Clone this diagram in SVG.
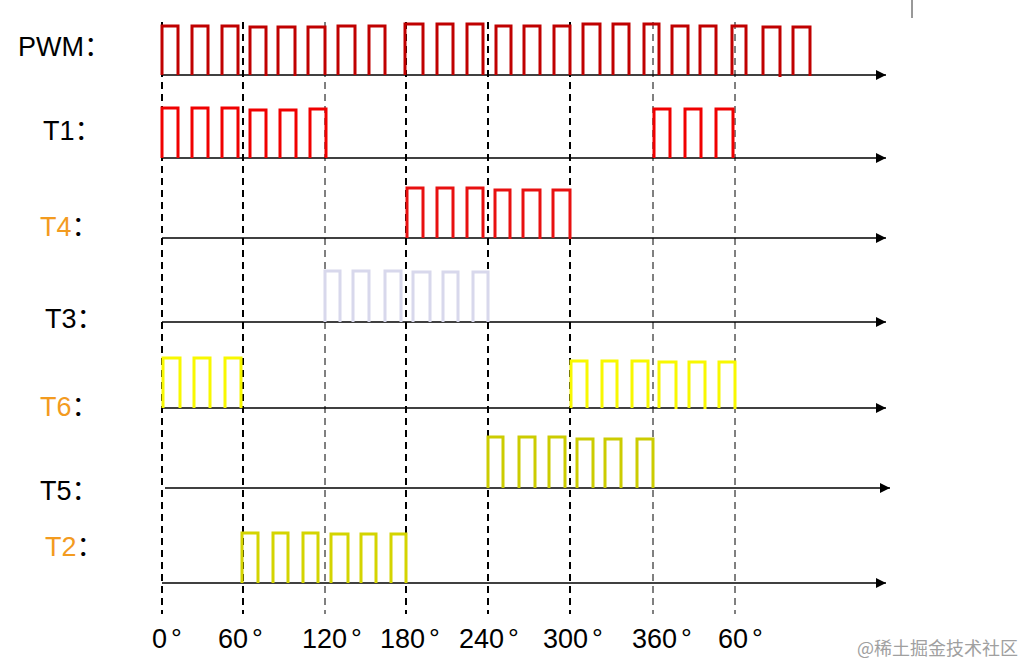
<svg xmlns="http://www.w3.org/2000/svg" width="1024" height="666" viewBox="0 0 1024 666">
<defs>
<marker id="arr" markerWidth="10" markerHeight="10" refX="10" refY="5" orient="auto" markerUnits="userSpaceOnUse">
<path d="M0,0 L10,5 L0,10 Z" fill="#000"/>
</marker>
<style>
.lbl{font-family:"Liberation Sans","Noto Sans CJK SC",sans-serif;font-size:27px;fill:#000}
.org{fill:#f39b1f}
.deg{font-family:"Liberation Sans",sans-serif;font-size:27px;fill:#000}
.axis{stroke:#000;stroke-width:1.6;fill:none;marker-end:url(#arr)}
.p{fill:none;stroke-width:3;stroke-linejoin:miter}
.dk{stroke:#000;stroke-width:2;stroke-dasharray:7 5;fill:none}
.dt{stroke:#000;stroke-width:1;stroke-dasharray:7 5;fill:none}
.wm{font-family:"Noto Sans CJK SC",sans-serif;font-size:18px;fill:#a0a0a0}
</style>
</defs>
<rect width="1024" height="666" fill="#fff"/>
<line x1="912" y1="0" x2="912" y2="18" stroke="#333" stroke-width="1"/>

<g id="connectors">
<line class="dk" x1="162" y1="22" x2="162" y2="614"/>
<line class="dk" x1="243" y1="22" x2="243" y2="614"/>
<line class="dt" x1="325" y1="22" x2="325" y2="614"/>
<line class="dk" x1="406" y1="22" x2="406" y2="614"/>
<line class="dk" x1="488" y1="22" x2="488" y2="614"/>
<line class="dk" x1="570" y1="22" x2="570" y2="614"/>
<line class="dt" x1="653" y1="22" x2="653" y2="614"/>
<line class="dt" x1="735" y1="22" x2="735" y2="614"/>
</g>

<g id="row-pwm">
<text class="lbl" x="18" y="56">PWM：</text>
<line class="axis" x1="162" y1="75" x2="886" y2="75"/>
<path class="p" stroke="#c00000" d="M162 75V26H178V75M192 75V26H208V75M222 75V26H238V75M250 75V27H266V76M278 75V27H295V76M308 75V27H325V75M338 75V26H355V75M369 75V26H385V75M405 75V24H423V75M437 75V24H453V75M467 75V24H483V75M496 75V26H511V75M524 75V26H540V75M554 75V26H570V75M583 75V24H600V75M613 75V24H629V75M644 75V24H659V75M672 75V26H688V75M700 75V26H716V75M732 75V26H746V75M763 75V27H780V77M793 75V27H810V76"/>
</g>

<g id="row-t1">
<text class="lbl" x="43" y="140">T1：</text>
<line class="axis" x1="162" y1="158" x2="886" y2="158"/>
<path class="p" stroke="#f00000" d="M162 158V108H178V158M192 158V108H208V158M222 158V108H238V158M250 158V110H266V158M280 158V110H296V158M310 158V109H326V158M654 158V109H670V158M685 158V109H701V158M716 158V109H733V158"/>
</g>

<g id="row-t4">
<text class="lbl" x="40" y="236"><tspan class="org">T4</tspan>：</text>
<line class="axis" x1="162" y1="238" x2="886" y2="238"/>
<path class="p" stroke="#e81010" d="M407 238V188H423V238M437 238V188H453V238M467 238V188H483V238M495 238V190H510V239M523 238V190H540V239M553 238V190H570V239"/>
</g>

<g id="row-t3">
<text class="lbl" x="45" y="328">T3：</text>
<line class="axis" x1="162" y1="322" x2="886" y2="322"/>
<path class="p" stroke="#d8d8ec" d="M325 322V271H340V322M353 322V271H369V322M385 322V271H401V322M413 322V272H430V322M443 322V272H458V322M473 322V272H488V322"/>
</g>

<g id="row-t6">
<text class="lbl" x="40" y="416"><tspan class="org">T6</tspan>：</text>
<line class="axis" x1="162" y1="408" x2="886" y2="408"/>
<path class="p" stroke="#f8f800" d="M163 408V358H180V408M194 408V358H210V408M225 408V358H241V408M571 408V361H587V408M602 408V361H617V408M632 408V361H648V408M659 408V362H676V409M689 408V362H705V409M719 408V362H735V409"/>
</g>

<g id="row-t5">
<text class="lbl" x="40" y="500">T5：</text>
<line class="axis" x1="165" y1="488" x2="890" y2="488"/>
<path class="p" stroke="#cccc00" d="M488 488V437H503V488M519 488V437H535V488M549 488V437H565V488M577 488V439H593V488M605 488V439H621V488M637 488V439H653V488"/>
</g>

<g id="row-t2">
<text class="lbl" x="45" y="556"><tspan class="org">T2</tspan>：</text>
<line class="axis" x1="162" y1="583" x2="886" y2="583"/>
<path class="p" stroke="#d4d400" d="M242 583V533H258V583M273 583V533H288V583M303 583V533H318V583M331 583V534H348V583M361 583V534H376V583M391 583V534H406V583"/>
</g>

<g id="degrees">
<text class="deg" x="152" y="648">0<tspan dx="4">°</tspan></text>
<text class="deg" x="218" y="648">60<tspan dx="4">°</tspan></text>
<text class="deg" x="302" y="648">120<tspan dx="4">°</tspan></text>
<text class="deg" x="380" y="648">180<tspan dx="4">°</tspan></text>
<text class="deg" x="459" y="648">240<tspan dx="4">°</tspan></text>
<text class="deg" x="543" y="648">300<tspan dx="4">°</tspan></text>
<text class="deg" x="632" y="648">360<tspan dx="4">°</tspan></text>
<text class="deg" x="718" y="648">60<tspan dx="4">°</tspan></text>
</g>

<text class="wm" x="857" y="655">@稀土掘金技术社区</text>
</svg>
